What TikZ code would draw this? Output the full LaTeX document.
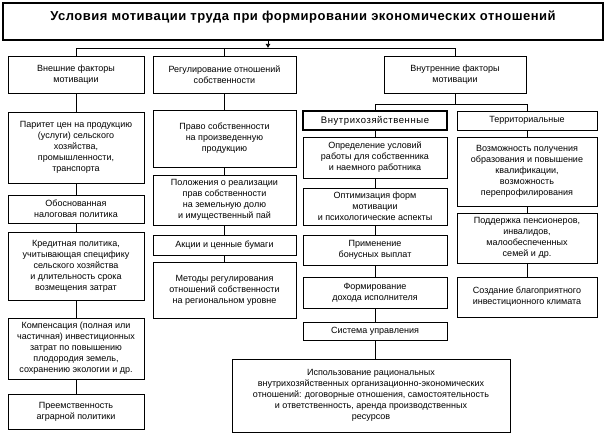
\documentclass[tikz,border=0pt]{standalone}
\usepackage{fontspec}
\setmainfont{Liberation Sans}
\usetikzlibrary{arrows.meta}
\newcommand\mkbox[7][]{\node[bx,#1,minimum width={#4-#3},minimum height={#6-#5}] (#2) at ({(#3+#4)/2},{(#5+#6)/2}) {#7};}
\begin{document}
\begin{tikzpicture}[x=1pt,y=-1pt,
  bx/.style={draw, line width=0.6pt, align=center, inner sep=0pt, font=\fontsize{9}{11}\selectfont},
  ln/.style={line width=0.6pt},
  thickbox/.style={line width=1.5pt},
  widefont/.style={font=\fontsize{9.5}{11}\selectfont\addfontfeature{LetterSpace=6}},
  titlefont/.style={font=\fontsize{13}{15}\selectfont\bfseries\addfontfeature{LetterSpace=4}}]
\useasboundingbox (0,0) rectangle (606,435);
% title
\mkbox[thickbox]{ttl}{3}{603}{3}{40}{}
\node[titlefont, inner sep=0pt] (ttltext) at (303,17) {Условия мотивации труда при формировании экономических отношений};
\coordinate (hb) at (268,48);
\coordinate (hr) at (0,104);
% top row
\mkbox{b1}{8}{144}{56}{93}{Внешние факторы\\мотивации}
\mkbox{b2}{153}{296}{56}{93}{Регулирование отношений\\собственности}
\mkbox{b3}{384}{526}{56}{93}{Внутренние факторы\\мотивации}
% left column
\mkbox{l1}{8}{144}{112}{183}{Паритет цен на продукцию\\(услуги) сельского\\хозяйства,\\промышленности,\\транспорта}
\mkbox{l2}{8}{144}{195}{223}{Обоснованная\\налоговая политика}
\mkbox{l3}{8}{144}{232}{300}{Кредитная политика,\\учитывающая специфику\\сельского хозяйства\\и длительность срока\\возмещения затрат}
\mkbox{l4}{8}{144}{318}{379}{Компенсация (полная или\\частичная) инвестиционных\\затрат по повышению\\плодородия земель,\\сохранению экологии и др.}
\mkbox{l5}{8}{144}{394}{429}{Преемственность\\аграрной политики}
% middle column
\mkbox{m1}{153}{296}{110}{167}{Право собственности\\на произведенную\\продукцию}
\mkbox{m2}{153}{296}{175}{225}{Положения о реализации\\прав собственности\\на земельную долю\\и имущественный пай}
\mkbox{m3}{153}{296}{235}{255}{Акции и ценные бумаги}
\mkbox{m4}{153}{296}{262}{318}{Методы регулирования\\отношений собственности\\на региональном уровне}
% right column A
\mkbox[thickbox,widefont]{r0}{303}{447}{111}{130}{Внутрихозяйственные}
\mkbox{r1}{303}{447}{137}{178}{Определение условий\\работы для собственника\\и наемного работника}
\mkbox{r2}{303}{447}{188}{225}{Оптимизация форм\\мотивации\\и психологические аспекты}
\mkbox{r3}{303}{447}{235}{265}{Применение\\бонусных выплат}
\mkbox{r4}{303}{447}{277}{308}{Формирование\\дохода исполнителя}
\mkbox{r5}{303}{447}{322}{340}{Система управления}
\mkbox{r6}{232}{510}{359}{432}{Использование рациональных\\внутрихозяйственных организационно-экономических\\отношений: договорные отношения, самостоятельность\\и ответственность, аренда производственных\\ресурсов}
% right column B
\mkbox{t0}{457}{597}{111}{130}{Территориальные}
\mkbox{t1}{457}{597}{137}{206}{Возможность получения\\образования и повышение\\квалификации,\\возможность\\перепрофилирования}
\mkbox{t2}{457}{597}{213}{263}{Поддержка пенсионеров,\\инвалидов,\\малообеспеченных\\семей и др.}
\mkbox{t3}{457}{597}{277}{317}{Создание благоприятного\\инвестиционного климата}
% connectors
\draw[ln,-{Latex[length=4pt,width=5pt]}] (ttl.south -| hb) -- (hb);
\draw[ln] (b1.north) -- (b1.north |- hb) -- (b3.north |- hb) -- (b3.north);
\draw[ln] (b2.north) -- (b2.north |- hb);
\draw[ln] (b1.south) -- (l1.north);
\draw[ln] (l1.south) -- (l2.north);
\draw[ln] (l2.south) -- (l3.north);
\draw[ln] (l3.south) -- (l4.north);
\draw[ln] (l4.south) -- (l5.north);
\draw[ln] (b2.south) -- (m1.north);
\draw[ln] (m1.south) -- (m2.north);
\draw[ln] (m2.south) -- (m3.north);
\draw[ln] (m3.south) -- (m4.north);
\draw[ln] (b3.south) -- (b3.south |- hr);
\draw[ln] (r0.north) -- (r0.north |- hr) -- (t0.north |- hr) -- (t0.north);
\draw[ln] (r0.south) -- (r1.north);
\draw[ln] (r1.south) -- (r2.north);
\draw[ln] (r2.south) -- (r3.north);
\draw[ln] (r3.south) -- (r4.north);
\draw[ln] (r4.south) -- (r5.north);
\draw[ln] (r5.south) -- (r5.south |- r6.north);
\draw[ln] (t0.south) -- (t1.north);
\draw[ln] (t1.south) -- (t2.north);
\draw[ln] (t2.south) -- (t3.north);
\end{tikzpicture}
\end{document}
